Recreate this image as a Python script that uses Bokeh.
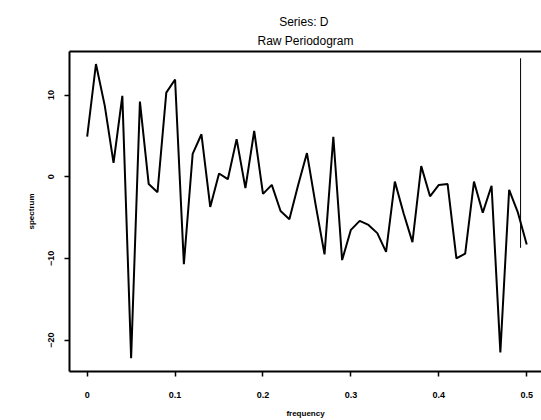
from bokeh.plotting import figure
from bokeh.models import Range1d, LinearAxis, Title, FixedTicker
from bokeh.embed import file_html
from bokeh.resources import INLINE

# Data (dB spectrum)
frequency = [0.00, 0.01, 0.02, 0.03, 0.04, 0.05, 0.06, 0.07, 0.08, 0.09,
             0.10, 0.11, 0.12, 0.13, 0.14, 0.15, 0.16, 0.17, 0.18, 0.19,
             0.20, 0.21, 0.22, 0.23, 0.24, 0.25, 0.26, 0.27, 0.28, 0.29,
             0.30, 0.31, 0.32, 0.33, 0.34, 0.35, 0.36, 0.37, 0.38, 0.39,
             0.40, 0.41, 0.42, 0.43, 0.44, 0.45, 0.46, 0.47, 0.48, 0.49,
             0.50]
spectrum = [4.9, 13.8, 8.7, 1.7, 9.9, -22.2, 9.2, -0.9, -1.9, 10.3,
            11.9, -10.7, 2.8, 5.2, -3.7, 0.4, -0.3, 4.6, -1.4, 5.6,
            -2.1, -1.0, -4.2, -5.2, -1.0, 2.9, -3.5, -9.5, 4.9, -10.2,
            -6.5, -5.4, -5.9, -6.9, -9.2, -0.6, -4.5, -8.0, 1.3, -2.4,
            -1.0, -0.9, -10.0, -9.4, -0.6, -4.4, -1.1, -21.5, -1.6, -4.4,
            -8.3]
ci_x = [0.493]
ci_low = [-8.7]
ci_high = [14.5]

x_ticks = [0.0, 0.1, 0.2, 0.3, 0.4, 0.5]
y_ticks = [-20, -10, 0, 10]

FONT = "Liberation Sans"

p = figure(width=541, height=420, output_backend="svg", toolbar_location=None,
           x_range=Range1d(-0.0201, 0.5168), y_range=Range1d(-23.84, 15.33),
           x_axis_location=None, y_axis_location=None, title_location=None,
           min_border_left=69, min_border_right=0, min_border_top=51, min_border_bottom=47)
p.outline_line_color = None
p.xgrid.visible = False
p.ygrid.visible = False
p.background_fill_color = "white"
p.border_fill_color = "white"

xaxis = LinearAxis(ticker=FixedTicker(ticks=x_ticks), axis_label="frequency")
yaxis = LinearAxis(ticker=FixedTicker(ticks=y_ticks), axis_label="spectrum")
for ax in (xaxis, yaxis):
    ax.axis_line_width = 2
    ax.axis_line_color = "black"
    ax.major_tick_line_width = 1.5
    ax.major_tick_line_color = "black"
    ax.major_tick_out = 5
    ax.major_tick_in = 0
    ax.minor_tick_line_color = None
    ax.major_label_text_font = FONT
    ax.major_label_text_font_size = "9px"
    ax.major_label_text_font_style = "bold"
    ax.major_label_text_color = "black"
    ax.axis_label_text_font = FONT
    ax.axis_label_text_font_size = "8px"
    ax.axis_label_text_font_style = "bold"
    ax.axis_label_text_color = "black"
xaxis.major_label_standoff = 15
xaxis.axis_label_standoff = 8
yaxis.major_label_orientation = "vertical"
yaxis.major_label_standoff = 10
yaxis.axis_label_standoff = 10
p.add_layout(xaxis, "below")
p.add_layout(yaxis, "left")

top = LinearAxis(ticker=FixedTicker(ticks=[]))
top.axis_line_width = 2
top.axis_line_color = "black"
top.major_tick_line_color = None
top.minor_tick_line_color = None
top.major_label_text_font_size = "0px"
top.major_label_standoff = 0
p.add_layout(top, "above")

t2 = Title(text="Raw Periodogram", align="center", text_font=FONT, text_font_size="12px",
           text_font_style="normal", text_color="black", standoff=8, offset=-4)
t1 = Title(text="Series:  D", align="center", text_font=FONT, text_font_size="12px",
           text_font_style="normal", text_color="black", standoff=-3, offset=-4)
p.add_layout(t2, "above")
p.add_layout(t1, "above")

p.line(frequency, spectrum, line_color="black", line_width=2)
p.segment(x0=ci_x, y0=ci_low, x1=ci_x, y1=ci_high, line_color="black", line_width=1)

open("out.html", "w").write(file_html(p, INLINE))
